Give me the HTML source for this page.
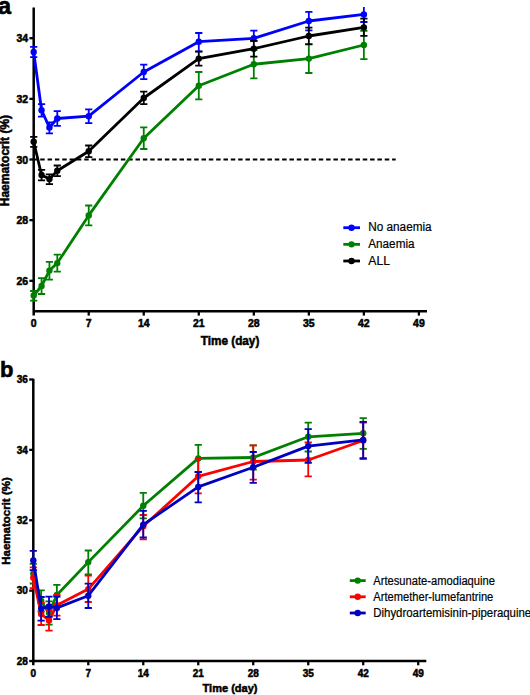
<!DOCTYPE html>
<html><head><meta charset="utf-8"><title>Haematocrit</title>
<style>html,body{margin:0;padding:0;background:#fff;}svg{display:block;}text{font-family:"Liberation Sans", sans-serif;fill:#000;}.bs{stroke:#000;stroke-width:0.5px;}.rs{stroke:#000;stroke-width:0.2px;}.bs2{stroke:#000;stroke-width:0.6px;}</style>
</head><body>
<svg width="530" height="695" viewBox="0 0 530 695">
<rect width="530" height="695" fill="#fff"/>
<text x="-1.9" y="13.7" font-size="23.5" font-weight="bold" class="bs2">a</text>
<path d="M33.70,7.5V315.6M32.70,311.2H427" stroke="#000" stroke-width="2.5" fill="none"/>
<path d="M29.4,38.20H33.70" stroke="#000" stroke-width="2.3"/>
<text transform="translate(28.20,42.20) scale(1,1.08)" font-size="10.5" font-weight="bold" text-anchor="end" class="bs">34</text>
<path d="M29.4,98.85H33.70" stroke="#000" stroke-width="2.3"/>
<text transform="translate(28.20,102.85) scale(1,1.08)" font-size="10.5" font-weight="bold" text-anchor="end" class="bs">32</text>
<path d="M29.4,159.50H33.70" stroke="#000" stroke-width="2.3"/>
<text transform="translate(28.20,163.50) scale(1,1.08)" font-size="10.5" font-weight="bold" text-anchor="end" class="bs">30</text>
<path d="M29.4,220.15H33.70" stroke="#000" stroke-width="2.3"/>
<text transform="translate(28.20,224.15) scale(1,1.08)" font-size="10.5" font-weight="bold" text-anchor="end" class="bs">28</text>
<path d="M29.4,280.80H33.70" stroke="#000" stroke-width="2.3"/>
<text transform="translate(28.20,284.80) scale(1,1.08)" font-size="10.5" font-weight="bold" text-anchor="end" class="bs">26</text>
<path d="M88.73,311.2V315.6" stroke="#000" stroke-width="2.3"/>
<path d="M143.75,311.2V315.6" stroke="#000" stroke-width="2.3"/>
<path d="M198.78,311.2V315.6" stroke="#000" stroke-width="2.3"/>
<path d="M253.81,311.2V315.6" stroke="#000" stroke-width="2.3"/>
<path d="M308.83,311.2V315.6" stroke="#000" stroke-width="2.3"/>
<path d="M363.86,311.2V315.6" stroke="#000" stroke-width="2.3"/>
<path d="M418.89,311.2V315.6" stroke="#000" stroke-width="2.3"/>
<text transform="translate(33.70,327.20) scale(1,1.06)" font-size="10.5" font-weight="bold" text-anchor="middle" class="bs">0</text>
<text transform="translate(88.73,327.20) scale(1,1.06)" font-size="10.5" font-weight="bold" text-anchor="middle" class="bs">7</text>
<text transform="translate(143.75,327.20) scale(1,1.06)" font-size="10.5" font-weight="bold" text-anchor="middle" class="bs">14</text>
<text transform="translate(198.78,327.20) scale(1,1.06)" font-size="10.5" font-weight="bold" text-anchor="middle" class="bs">21</text>
<text transform="translate(253.81,327.20) scale(1,1.06)" font-size="10.5" font-weight="bold" text-anchor="middle" class="bs">28</text>
<text transform="translate(308.83,327.20) scale(1,1.06)" font-size="10.5" font-weight="bold" text-anchor="middle" class="bs">35</text>
<text transform="translate(363.86,327.20) scale(1,1.06)" font-size="10.5" font-weight="bold" text-anchor="middle" class="bs">42</text>
<text transform="translate(418.89,327.20) scale(1,1.06)" font-size="10.5" font-weight="bold" text-anchor="middle" class="bs">49</text>
<text transform="translate(230.00,344.50) scale(1,1.04)" font-size="11.8" font-weight="bold" text-anchor="middle" class="bs">Time (day)</text>
<text transform="translate(9.3,160.6) rotate(-90)" x="0" y="0" font-size="12" font-weight="bold" text-anchor="middle" class="bs">Haematocrit (%)</text>
<path d="M32.9,159.5H395.7" stroke="#000" stroke-width="2" stroke-dasharray="4.5 2.83" fill="none"/>
<clipPath id="ca"><rect x="0" y="7.0" width="530" height="400"/></clipPath><g clip-path="url(#ca)">
<polyline points="33.70,52.00 41.56,110.20 49.42,127.50 57.28,118.50 88.73,116.20 143.75,72.00 198.78,41.70 253.81,38.30 308.83,21.00 363.86,14.40" fill="none" stroke="#0000ff" stroke-width="2.8" stroke-linejoin="round"/>
<path d="M33.70,46.80V57.20M30.10,46.80H37.30M30.10,57.20H37.30" stroke="#0000ff" stroke-width="1.8" fill="none"/>
<circle cx="33.70" cy="52.00" r="3.2" fill="#0000ff"/>
<path d="M41.56,104.20V116.60M37.96,104.20H45.16M37.96,116.60H45.16" stroke="#0000ff" stroke-width="1.8" fill="none"/>
<circle cx="41.56" cy="110.20" r="3.2" fill="#0000ff"/>
<path d="M49.42,122.40V133.40M45.82,122.40H53.02M45.82,133.40H53.02" stroke="#0000ff" stroke-width="1.8" fill="none"/>
<circle cx="49.42" cy="127.50" r="3.2" fill="#0000ff"/>
<path d="M57.28,111.20V125.80M53.68,111.20H60.88M53.68,125.80H60.88" stroke="#0000ff" stroke-width="1.8" fill="none"/>
<circle cx="57.28" cy="118.50" r="3.2" fill="#0000ff"/>
<path d="M88.73,109.30V123.10M85.13,109.30H92.33M85.13,123.10H92.33" stroke="#0000ff" stroke-width="1.8" fill="none"/>
<circle cx="88.73" cy="116.20" r="3.2" fill="#0000ff"/>
<path d="M143.75,64.70V79.10M140.15,64.70H147.35M140.15,79.10H147.35" stroke="#0000ff" stroke-width="1.8" fill="none"/>
<circle cx="143.75" cy="72.00" r="3.2" fill="#0000ff"/>
<path d="M198.78,33.00V51.30M195.18,33.00H202.38M195.18,51.30H202.38" stroke="#0000ff" stroke-width="1.8" fill="none"/>
<circle cx="198.78" cy="41.70" r="3.2" fill="#0000ff"/>
<path d="M253.81,30.70V40.90M250.21,30.70H257.41M250.21,40.90H257.41" stroke="#0000ff" stroke-width="1.8" fill="none"/>
<circle cx="253.81" cy="38.30" r="3.2" fill="#0000ff"/>
<path d="M308.83,11.90V30.40M305.23,11.90H312.44M305.23,30.40H312.44" stroke="#0000ff" stroke-width="1.8" fill="none"/>
<circle cx="308.83" cy="21.00" r="3.2" fill="#0000ff"/>
<path d="M363.86,5.00V22.00M360.26,5.00H367.46M360.26,22.00H367.46" stroke="#0000ff" stroke-width="1.8" fill="none"/>
<circle cx="363.86" cy="14.40" r="3.2" fill="#0000ff"/>
<polyline points="33.70,295.50 41.56,286.00 49.42,270.60 57.28,263.10 88.73,215.40 143.75,138.20 198.78,85.80 253.81,64.30 308.83,58.60 363.86,45.00" fill="none" stroke="#008000" stroke-width="2.8" stroke-linejoin="round"/>
<path d="M33.70,291.00V300.60M30.10,291.00H37.30M30.10,300.60H37.30" stroke="#008000" stroke-width="1.8" fill="none"/>
<circle cx="33.70" cy="295.50" r="3.2" fill="#008000"/>
<path d="M41.56,278.20V294.00M37.96,278.20H45.16M37.96,294.00H45.16" stroke="#008000" stroke-width="1.8" fill="none"/>
<circle cx="41.56" cy="286.00" r="3.2" fill="#008000"/>
<path d="M49.42,261.80V279.60M45.82,261.80H53.02M45.82,279.60H53.02" stroke="#008000" stroke-width="1.8" fill="none"/>
<circle cx="49.42" cy="270.60" r="3.2" fill="#008000"/>
<path d="M57.28,254.60V271.60M53.68,254.60H60.88M53.68,271.60H60.88" stroke="#008000" stroke-width="1.8" fill="none"/>
<circle cx="57.28" cy="263.10" r="3.2" fill="#008000"/>
<path d="M88.73,205.50V225.30M85.13,205.50H92.33M85.13,225.30H92.33" stroke="#008000" stroke-width="1.8" fill="none"/>
<circle cx="88.73" cy="215.40" r="3.2" fill="#008000"/>
<path d="M143.75,127.40V149.00M140.15,127.40H147.35M140.15,149.00H147.35" stroke="#008000" stroke-width="1.8" fill="none"/>
<circle cx="143.75" cy="138.20" r="3.2" fill="#008000"/>
<path d="M198.78,72.00V99.40M195.18,72.00H202.38M195.18,99.40H202.38" stroke="#008000" stroke-width="1.8" fill="none"/>
<circle cx="198.78" cy="85.80" r="3.2" fill="#008000"/>
<path d="M253.81,50.20V78.40M250.21,50.20H257.41M250.21,78.40H257.41" stroke="#008000" stroke-width="1.8" fill="none"/>
<circle cx="253.81" cy="64.30" r="3.2" fill="#008000"/>
<path d="M308.83,44.20V73.00M305.23,44.20H312.44M305.23,73.00H312.44" stroke="#008000" stroke-width="1.8" fill="none"/>
<circle cx="308.83" cy="58.60" r="3.2" fill="#008000"/>
<path d="M363.86,30.90V59.10M360.26,30.90H367.46M360.26,59.10H367.46" stroke="#008000" stroke-width="1.8" fill="none"/>
<circle cx="363.86" cy="45.00" r="3.2" fill="#008000"/>
<polyline points="33.70,141.80 41.56,175.00 49.42,179.10 57.28,170.80 88.73,151.20 143.75,98.00 198.78,58.60 253.81,48.70 308.83,36.00 363.86,27.40" fill="none" stroke="#000000" stroke-width="2.8" stroke-linejoin="round"/>
<path d="M33.70,136.80V146.80M30.10,136.80H37.30M30.10,146.80H37.30" stroke="#000000" stroke-width="1.8" fill="none"/>
<circle cx="33.70" cy="141.80" r="3.2" fill="#000000"/>
<path d="M41.56,169.80V180.40M37.96,169.80H45.16M37.96,180.40H45.16" stroke="#000000" stroke-width="1.8" fill="none"/>
<circle cx="41.56" cy="175.00" r="3.2" fill="#000000"/>
<path d="M49.42,174.30V184.10M45.82,174.30H53.02M45.82,184.10H53.02" stroke="#000000" stroke-width="1.8" fill="none"/>
<circle cx="49.42" cy="179.10" r="3.2" fill="#000000"/>
<path d="M57.28,165.50V176.10M53.68,165.50H60.88M53.68,176.10H60.88" stroke="#000000" stroke-width="1.8" fill="none"/>
<circle cx="57.28" cy="170.80" r="3.2" fill="#000000"/>
<path d="M88.73,145.50V157.10M85.13,145.50H92.33M85.13,157.10H92.33" stroke="#000000" stroke-width="1.8" fill="none"/>
<circle cx="88.73" cy="151.20" r="3.2" fill="#000000"/>
<path d="M143.75,91.60V104.20M140.15,91.60H147.35M140.15,104.20H147.35" stroke="#000000" stroke-width="1.8" fill="none"/>
<circle cx="143.75" cy="98.00" r="3.2" fill="#000000"/>
<path d="M198.78,51.70V65.60M195.18,51.70H202.38M195.18,65.60H202.38" stroke="#000000" stroke-width="1.8" fill="none"/>
<circle cx="198.78" cy="58.60" r="3.2" fill="#000000"/>
<path d="M253.81,40.90V56.60M250.21,40.90H257.41M250.21,56.60H257.41" stroke="#000000" stroke-width="1.8" fill="none"/>
<circle cx="253.81" cy="48.70" r="3.2" fill="#000000"/>
<path d="M308.83,27.60V44.30M305.23,27.60H312.44M305.23,44.30H312.44" stroke="#000000" stroke-width="1.8" fill="none"/>
<circle cx="308.83" cy="36.00" r="3.2" fill="#000000"/>
<path d="M363.86,18.70V35.90M360.26,18.70H367.46M360.26,35.90H367.46" stroke="#000000" stroke-width="1.8" fill="none"/>
<circle cx="363.86" cy="27.40" r="3.2" fill="#000000"/>
</g>
<path d="M343.3,227.70H360" stroke="#0000ff" stroke-width="2.8"/><circle cx="351.5" cy="227.70" r="3.2" fill="#0000ff"/>
<text x="368.3" y="231.40" font-size="12.5" textLength="63.3" lengthAdjust="spacingAndGlyphs" class="rs">No anaemia</text>
<path d="M343.3,244.35H360" stroke="#008000" stroke-width="2.8"/><circle cx="351.5" cy="244.35" r="3.2" fill="#008000"/>
<text x="368.3" y="248.10" font-size="12.5" textLength="46.2" lengthAdjust="spacingAndGlyphs" class="rs">Anaemia</text>
<path d="M343.3,261.00H360" stroke="#000000" stroke-width="2.8"/><circle cx="351.5" cy="261.00" r="3.2" fill="#000000"/>
<text x="368.3" y="264.80" font-size="12.5" textLength="21.7" lengthAdjust="spacingAndGlyphs" class="rs">ALL</text>
<text x="0.1" y="376.5" font-size="22" font-weight="bold" class="bs2">b</text>
<path d="M33.30,378.8V665.3M32.30,661.0H426.3" stroke="#000" stroke-width="2.5" fill="none"/>
<path d="M29.2,379.50H33.30" stroke="#000" stroke-width="2.3"/>
<text x="27.9" y="383.30" font-size="10" font-weight="bold" text-anchor="end" class="bs">36</text>
<path d="M29.2,449.88H33.30" stroke="#000" stroke-width="2.3"/>
<text x="27.9" y="453.68" font-size="10" font-weight="bold" text-anchor="end" class="bs">34</text>
<path d="M29.2,520.26H33.30" stroke="#000" stroke-width="2.3"/>
<text x="27.9" y="524.06" font-size="10" font-weight="bold" text-anchor="end" class="bs">32</text>
<path d="M29.2,590.64H33.30" stroke="#000" stroke-width="2.3"/>
<text x="27.9" y="594.44" font-size="10" font-weight="bold" text-anchor="end" class="bs">30</text>
<path d="M29.2,661.02H33.30" stroke="#000" stroke-width="2.3"/>
<text x="27.9" y="664.82" font-size="10" font-weight="bold" text-anchor="end" class="bs">28</text>
<path d="M88.28,661.0V665.3" stroke="#000" stroke-width="2.3"/>
<path d="M143.27,661.0V665.3" stroke="#000" stroke-width="2.3"/>
<path d="M198.25,661.0V665.3" stroke="#000" stroke-width="2.3"/>
<path d="M253.24,661.0V665.3" stroke="#000" stroke-width="2.3"/>
<path d="M308.23,661.0V665.3" stroke="#000" stroke-width="2.3"/>
<path d="M363.21,661.0V665.3" stroke="#000" stroke-width="2.3"/>
<path d="M418.20,661.0V665.3" stroke="#000" stroke-width="2.3"/>
<text x="33.30" y="676.6" font-size="10" font-weight="bold" text-anchor="middle" class="bs">0</text>
<text x="88.28" y="676.6" font-size="10" font-weight="bold" text-anchor="middle" class="bs">7</text>
<text x="143.27" y="676.6" font-size="10" font-weight="bold" text-anchor="middle" class="bs">14</text>
<text x="198.25" y="676.6" font-size="10" font-weight="bold" text-anchor="middle" class="bs">21</text>
<text x="253.24" y="676.6" font-size="10" font-weight="bold" text-anchor="middle" class="bs">28</text>
<text x="308.23" y="676.6" font-size="10" font-weight="bold" text-anchor="middle" class="bs">35</text>
<text x="363.21" y="676.6" font-size="10" font-weight="bold" text-anchor="middle" class="bs">42</text>
<text x="418.20" y="676.6" font-size="10" font-weight="bold" text-anchor="middle" class="bs">49</text>
<text x="230" y="691.9" font-size="11" font-weight="bold" text-anchor="middle" class="bs">Time (day)</text>
<text transform="translate(10.2,521) rotate(-90)" x="0" y="0" font-size="11.5" font-weight="bold" text-anchor="middle" class="bs">Haematocrit (%)</text>
<polyline points="33.30,573.60 41.16,601.00 49.01,613.00 56.86,595.00 88.28,562.10 143.27,505.80 198.25,458.40 253.24,457.50 308.23,436.80 363.21,433.30" fill="none" stroke="#008000" stroke-width="2.8" stroke-linejoin="round"/>
<path d="M33.30,563.80V583.50M29.70,563.80H36.90M29.70,583.50H36.90" stroke="#008000" stroke-width="1.8" fill="none"/>
<circle cx="33.30" cy="573.60" r="3.2" fill="#008000"/>
<path d="M41.16,590.30V611.70M37.55,590.30H44.76M37.55,611.70H44.76" stroke="#008000" stroke-width="1.8" fill="none"/>
<circle cx="41.16" cy="601.00" r="3.2" fill="#008000"/>
<path d="M49.01,601.40V624.70M45.41,601.40H52.61M45.41,624.70H52.61" stroke="#008000" stroke-width="1.8" fill="none"/>
<circle cx="49.01" cy="613.00" r="3.2" fill="#008000"/>
<path d="M56.86,584.90V605.10M53.26,584.90H60.46M53.26,605.10H60.46" stroke="#008000" stroke-width="1.8" fill="none"/>
<circle cx="56.86" cy="595.00" r="3.2" fill="#008000"/>
<path d="M88.28,550.50V574.30M84.69,550.50H91.88M84.69,574.30H91.88" stroke="#008000" stroke-width="1.8" fill="none"/>
<circle cx="88.28" cy="562.10" r="3.2" fill="#008000"/>
<path d="M143.27,492.80V518.30M139.67,492.80H146.87M139.67,518.30H146.87" stroke="#008000" stroke-width="1.8" fill="none"/>
<circle cx="143.27" cy="505.80" r="3.2" fill="#008000"/>
<path d="M198.25,444.80V472.00M194.66,444.80H201.85M194.66,472.00H201.85" stroke="#008000" stroke-width="1.8" fill="none"/>
<circle cx="198.25" cy="458.40" r="3.2" fill="#008000"/>
<path d="M253.24,445.30V469.70M249.64,445.30H256.84M249.64,469.70H256.84" stroke="#008000" stroke-width="1.8" fill="none"/>
<circle cx="253.24" cy="457.50" r="3.2" fill="#008000"/>
<path d="M308.23,422.60V451.50M304.62,422.60H311.83M304.62,451.50H311.83" stroke="#008000" stroke-width="1.8" fill="none"/>
<circle cx="308.23" cy="436.80" r="3.2" fill="#008000"/>
<path d="M363.21,418.20V448.90M359.61,418.20H366.81M359.61,448.90H366.81" stroke="#008000" stroke-width="1.8" fill="none"/>
<circle cx="363.21" cy="433.30" r="3.2" fill="#008000"/>
<polyline points="33.30,577.70 41.16,614.00 49.01,620.40 56.86,605.30 88.28,589.10 143.27,526.20 198.25,476.30 253.24,461.50 308.23,460.00 363.21,440.50" fill="none" stroke="#ff0000" stroke-width="2.8" stroke-linejoin="round"/>
<path d="M33.30,567.30V588.20M29.70,567.30H36.90M29.70,588.20H36.90" stroke="#ff0000" stroke-width="1.8" fill="none"/>
<circle cx="33.30" cy="577.70" r="3.2" fill="#ff0000"/>
<path d="M41.16,603.00V625.00M37.55,603.00H44.76M37.55,625.00H44.76" stroke="#ff0000" stroke-width="1.8" fill="none"/>
<circle cx="41.16" cy="614.00" r="3.2" fill="#ff0000"/>
<path d="M49.01,610.00V630.70M45.41,610.00H52.61M45.41,630.70H52.61" stroke="#ff0000" stroke-width="1.8" fill="none"/>
<circle cx="49.01" cy="620.40" r="3.2" fill="#ff0000"/>
<path d="M56.86,595.00V615.60M53.26,595.00H60.46M53.26,615.60H60.46" stroke="#ff0000" stroke-width="1.8" fill="none"/>
<circle cx="56.86" cy="605.30" r="3.2" fill="#ff0000"/>
<path d="M88.28,575.60V602.00M84.69,575.60H91.88M84.69,602.00H91.88" stroke="#ff0000" stroke-width="1.8" fill="none"/>
<circle cx="88.28" cy="589.10" r="3.2" fill="#ff0000"/>
<path d="M143.27,515.00V539.40M139.67,515.00H146.87M139.67,539.40H146.87" stroke="#ff0000" stroke-width="1.8" fill="none"/>
<circle cx="143.27" cy="526.20" r="3.2" fill="#ff0000"/>
<path d="M198.25,458.90V493.30M194.66,458.90H201.85M194.66,493.30H201.85" stroke="#ff0000" stroke-width="1.8" fill="none"/>
<circle cx="198.25" cy="476.30" r="3.2" fill="#ff0000"/>
<path d="M253.24,445.40V479.70M249.64,445.40H256.84M249.64,479.70H256.84" stroke="#ff0000" stroke-width="1.8" fill="none"/>
<circle cx="253.24" cy="461.50" r="3.2" fill="#ff0000"/>
<path d="M308.23,442.50V476.40M304.62,442.50H311.83M304.62,476.40H311.83" stroke="#ff0000" stroke-width="1.8" fill="none"/>
<circle cx="308.23" cy="460.00" r="3.2" fill="#ff0000"/>
<path d="M363.21,422.50V459.00M359.61,422.50H366.81M359.61,459.00H366.81" stroke="#ff0000" stroke-width="1.8" fill="none"/>
<circle cx="363.21" cy="440.50" r="3.2" fill="#ff0000"/>
<polyline points="33.30,560.40 41.16,608.70 49.01,606.50 56.86,607.90 88.28,595.70 143.27,524.60 198.25,486.90 253.24,467.30 308.23,446.10 363.21,439.90" fill="none" stroke="#0000c0" stroke-width="2.8" stroke-linejoin="round"/>
<path d="M33.30,550.80V570.20M29.70,550.80H36.90M29.70,570.20H36.90" stroke="#0000c0" stroke-width="1.8" fill="none"/>
<circle cx="33.30" cy="560.40" r="3.2" fill="#0000c0"/>
<path d="M41.16,597.00V620.60M37.55,597.00H44.76M37.55,620.60H44.76" stroke="#0000c0" stroke-width="1.8" fill="none"/>
<circle cx="41.16" cy="608.70" r="3.2" fill="#0000c0"/>
<path d="M49.01,596.60V616.80M45.41,596.60H52.61M45.41,616.80H52.61" stroke="#0000c0" stroke-width="1.8" fill="none"/>
<circle cx="49.01" cy="606.50" r="3.2" fill="#0000c0"/>
<path d="M56.86,596.60V619.20M53.26,596.60H60.46M53.26,619.20H60.46" stroke="#0000c0" stroke-width="1.8" fill="none"/>
<circle cx="56.86" cy="607.90" r="3.2" fill="#0000c0"/>
<path d="M88.28,583.70V608.00M84.69,583.70H91.88M84.69,608.00H91.88" stroke="#0000c0" stroke-width="1.8" fill="none"/>
<circle cx="88.28" cy="595.70" r="3.2" fill="#0000c0"/>
<path d="M143.27,510.80V537.50M139.67,510.80H146.87M139.67,537.50H146.87" stroke="#0000c0" stroke-width="1.8" fill="none"/>
<circle cx="143.27" cy="524.60" r="3.2" fill="#0000c0"/>
<path d="M198.25,472.00V502.30M194.66,472.00H201.85M194.66,502.30H201.85" stroke="#0000c0" stroke-width="1.8" fill="none"/>
<circle cx="198.25" cy="486.90" r="3.2" fill="#0000c0"/>
<path d="M253.24,452.00V482.90M249.64,452.00H256.84M249.64,482.90H256.84" stroke="#0000c0" stroke-width="1.8" fill="none"/>
<circle cx="253.24" cy="467.30" r="3.2" fill="#0000c0"/>
<path d="M308.23,429.20V462.80M304.62,429.20H311.83M304.62,462.80H311.83" stroke="#0000c0" stroke-width="1.8" fill="none"/>
<circle cx="308.23" cy="446.10" r="3.2" fill="#0000c0"/>
<path d="M363.21,421.80V458.10M359.61,421.80H366.81M359.61,458.10H366.81" stroke="#0000c0" stroke-width="1.8" fill="none"/>
<circle cx="363.21" cy="439.90" r="3.2" fill="#0000c0"/>
<path d="M349.8,580.60H365.7" stroke="#008000" stroke-width="2.8"/><circle cx="357.7" cy="580.60" r="3.2" fill="#008000"/>
<text x="373.3" y="584.80" font-size="12.3" textLength="121.6" lengthAdjust="spacingAndGlyphs" class="rs">Artesunate-amodiaquine</text>
<path d="M349.8,596.80H365.7" stroke="#ff0000" stroke-width="2.8"/><circle cx="357.7" cy="596.80" r="3.2" fill="#ff0000"/>
<text x="373.3" y="600.60" font-size="12.3" textLength="120.0" lengthAdjust="spacingAndGlyphs" class="rs">Artemether-lumefantrine</text>
<path d="M349.8,613.00H365.7" stroke="#0000c0" stroke-width="2.8"/><circle cx="357.7" cy="613.00" r="3.2" fill="#0000c0"/>
<text x="373.3" y="616.60" font-size="12.3" textLength="157.9" lengthAdjust="spacingAndGlyphs" class="rs">Dihydroartemisinin-piperaquine</text>
</svg>
</body></html>
